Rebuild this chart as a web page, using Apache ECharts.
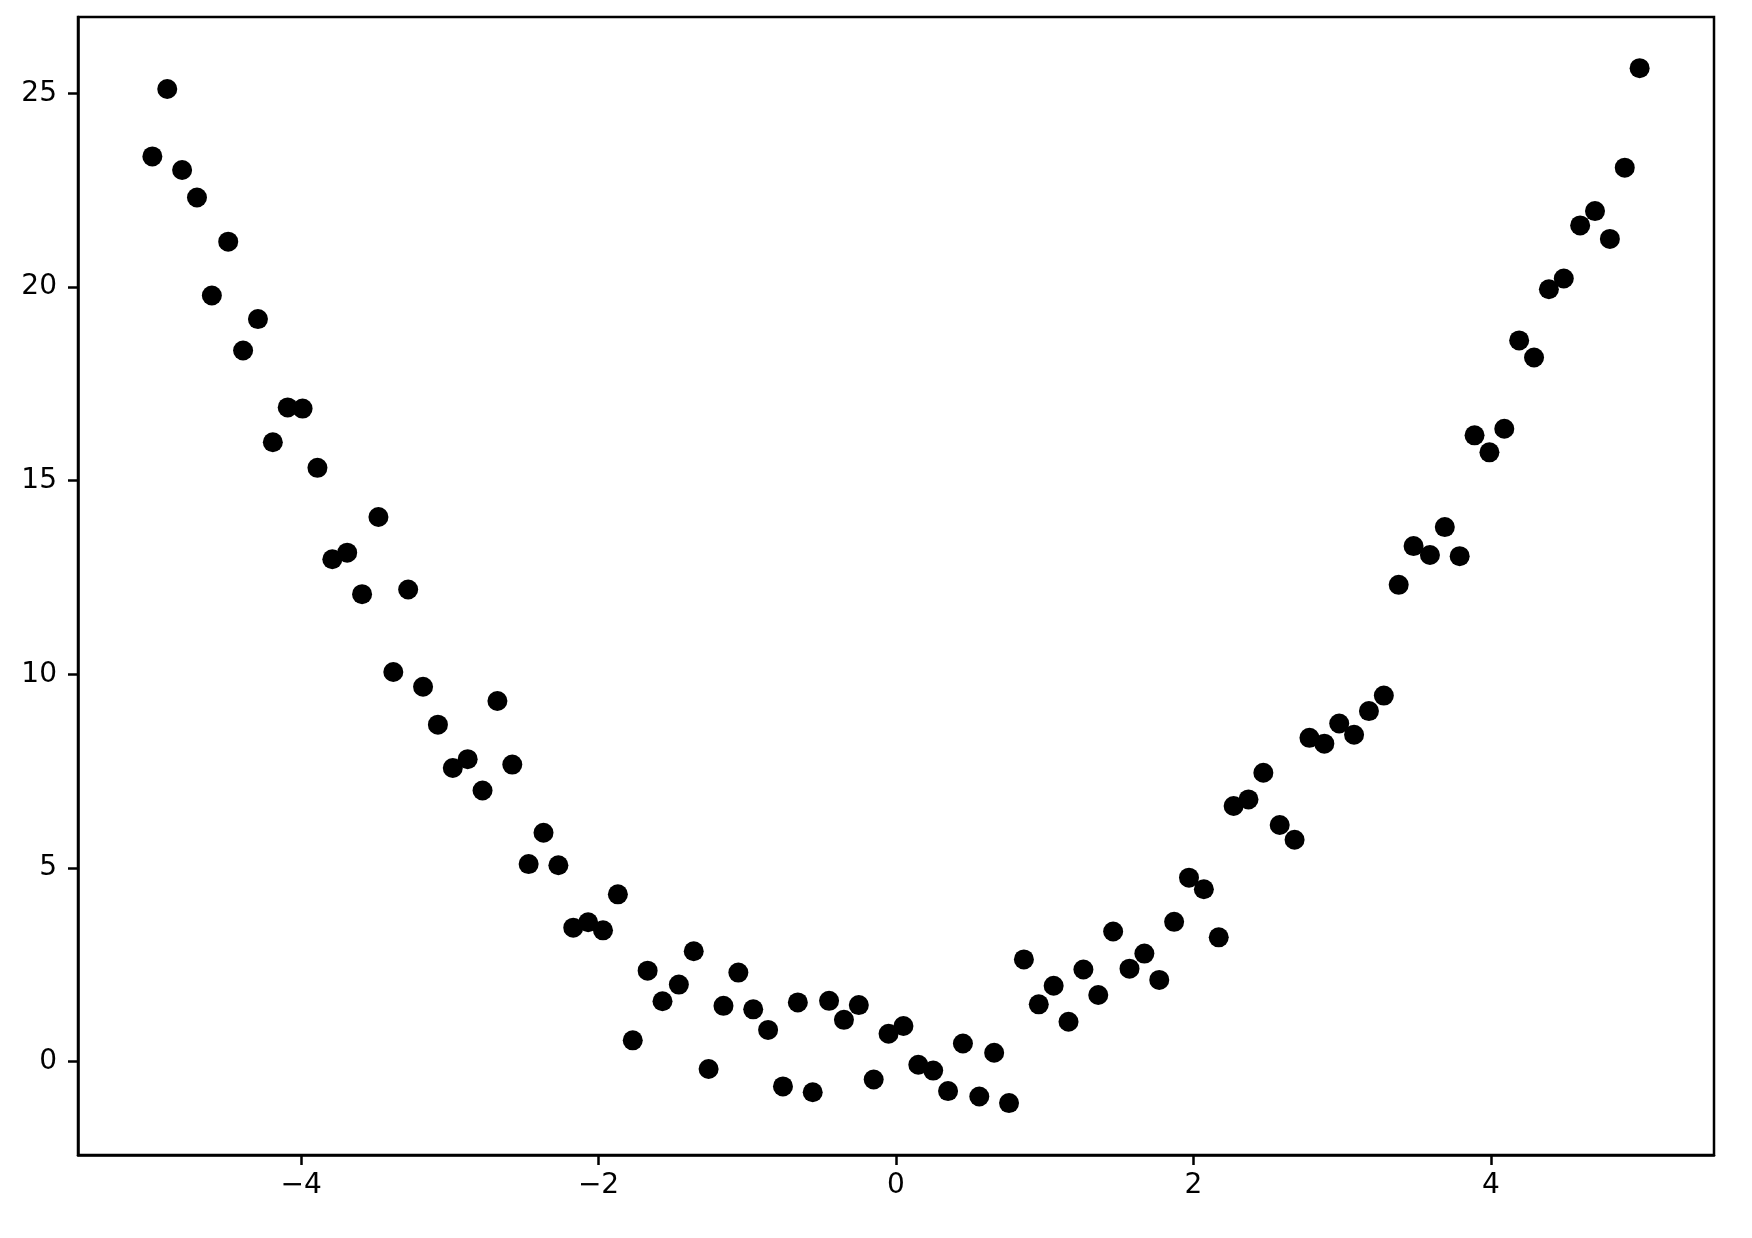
<!DOCTYPE html>
<html>
<head>
<meta charset="utf-8">
<script src="https://cdn.jsdelivr.net/npm/echarts@6/dist/echarts.min.js"></script>
<style>
  html, body { margin: 0; padding: 0; background: #fff; }
  #main { width: 1752px; height: 1238px; }
</style>
</head>
<body>
<div id="main"></div>
<script>
// x positions of the samples (evenly spaced from -5 to 5)
var xVals = [
  -5.00, -4.90, -4.80, -4.70, -4.60, -4.49, -4.39, -4.29, -4.19, -4.09,
  -3.99, -3.89, -3.79, -3.69, -3.59, -3.48, -3.38, -3.28, -3.18, -3.08,
  -2.98, -2.88, -2.78, -2.68, -2.58, -2.47, -2.37, -2.27, -2.17, -2.07,
  -1.97, -1.87, -1.77, -1.67, -1.57, -1.46, -1.36, -1.26, -1.16, -1.06,
  -0.96, -0.86, -0.76, -0.66, -0.56, -0.45, -0.35, -0.25, -0.15, -0.05,
   0.05,  0.15,  0.25,  0.35,  0.45,  0.56,  0.66,  0.76,  0.86,  0.96,
   1.06,  1.16,  1.26,  1.36,  1.46,  1.57,  1.67,  1.77,  1.87,  1.97,
   2.07,  2.17,  2.27,  2.37,  2.47,  2.58,  2.68,  2.78,  2.88,  2.98,
   3.08,  3.18,  3.28,  3.38,  3.48,  3.59,  3.69,  3.79,  3.89,  3.99,
   4.09,  4.19,  4.29,  4.39,  4.49,  4.60,  4.70,  4.80,  4.90,  5.00
];

// measured y values
var yVals = [
  23.37, 25.11, 23.02, 22.31, 19.78, 21.17, 18.36, 19.17, 15.99, 16.89,
  16.86, 15.33, 12.97, 13.14, 12.07, 14.06, 10.06, 12.19,  9.68,  8.70,
   7.58,  7.81,  7.00,  9.31,  7.67,  5.10,  5.91,  5.07,  3.46,  3.60,
   3.39,  4.32,  0.55,  2.35,  1.56,  1.99,  2.85, -0.19,  1.44,  2.30,
   1.35,  0.82, -0.64,  1.53, -0.79,  1.57,  1.08,  1.46, -0.46,  0.72,
   0.92, -0.08, -0.23, -0.76,  0.47, -0.90,  0.23, -1.07,  2.64,  1.48,
   1.96,  1.03,  2.38,  1.72,  3.36,  2.40,  2.79,  2.11,  3.61,  4.75,
   4.45,  3.21,  6.60,  6.77,  7.46,  6.11,  5.73,  8.36,  8.21,  8.73,
   8.44,  9.05,  9.45, 12.31, 13.31, 13.08, 13.80, 13.05, 16.17, 15.73,
  16.34, 18.62, 18.18, 19.94, 20.22, 21.59, 21.96, 21.24, 23.08, 25.65
];

var xTicks = [-4, -2, 0, 2, 4];
var yTicks = [0, 5, 10, 15, 20, 25];

var points = [];
for (var i = 0; i < xVals.length; i++) {
  points.push([xVals[i], yVals[i]]);
}

function fmt(v) {
  return String(v).replace('-', '\u2212');
}

var labelStyle = {
  color: '#000',
  fontFamily: 'DejaVu Sans',
  fontSize: 28
};

var myChart = echarts.init(document.getElementById('main'));

var option = {
  backgroundColor: '#fff',
  animation: false,
  grid: {
    left: 78,
    right: 38,
    top: 17,
    bottom: 83,
    show: true,
    borderColor: '#000',
    borderWidth: 2.5,
    backgroundColor: 'transparent'
  },
  xAxis: {
    type: 'value',
    min: -5.5,
    max: 5.5,
    splitLine: { show: false },
    axisLine: { show: true, onZero: false, lineStyle: { color: '#000', width: 2.5 } },
    axisTick: {
      show: true,
      customValues: xTicks,
      length: 10,
      lineStyle: { color: '#000', width: 2.5 }
    },
    axisLabel: Object.assign({
      customValues: xTicks,
      margin: 17,
      formatter: fmt
    }, labelStyle)
  },
  yAxis: {
    type: 'value',
    min: -2.41,
    max: 26.97,
    splitLine: { show: false },
    axisLine: { show: true, onZero: false, lineStyle: { color: '#000', width: 2.5 } },
    axisTick: {
      show: true,
      customValues: yTicks,
      length: 10,
      lineStyle: { color: '#000', width: 2.5 }
    },
    axisLabel: Object.assign({
      customValues: yTicks,
      margin: 21,
      formatter: fmt
    }, labelStyle)
  },
  series: [{
    type: 'scatter',
    data: points,
    symbol: 'circle',
    symbolSize: 20,
    itemStyle: { color: '#000', opacity: 1 }
  }]
};

myChart.setOption(option);
</script>
</body>
</html>
